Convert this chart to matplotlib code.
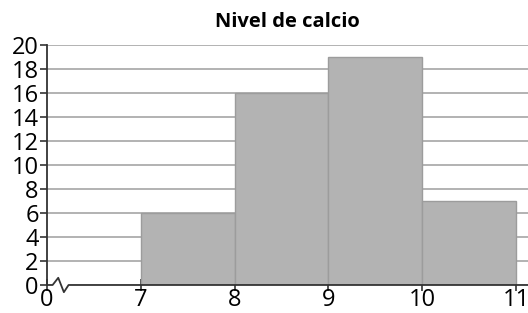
import matplotlib.pyplot as plt
import numpy as np

# datos del histograma
bordes = [7, 8, 9, 10, 11]
frecuencias = [6, 16, 19, 7]
etiquetas_x = ["0", "7", "8", "9", "10", "11"]
posiciones_x = [6, 7, 8, 9, 10, 11]
ticks_y = list(range(0, 21, 2))

plt.rcParams['font.family'] = ['Open Sans', 'DejaVu Sans']

fig = plt.figure(figsize=(5.28, 3.13), dpi=100)
ax = fig.add_axes([0.089, 0.0895, 0.911, 0.7665])

ax.set_xlim(6, 11.128)
ax.set_ylim(0, 20)

for y in ticks_y[1:]:
    ax.axhline(y, color='#a6a6a6', lw=1.2, zorder=1)

anchos = np.diff(bordes)
ax.bar(bordes[:-1], frecuencias, width=anchos, align='edge',
       color='#b3b3b3', edgecolor='#9c9c9c', lw=1, zorder=2)

# eje x con corte en zigzag
ax.spines['bottom'].set_visible(False)
ax.spines['top'].set_visible(False)
ax.spines['right'].set_visible(False)
ax.spines['left'].set_color('#333333')
ax.spines['left'].set_linewidth(1.3)
zx = [6, 6.06, 6.12, 6.18, 6.23, 6.3, 11.128]
zy = [0, 0, 0.6, -0.6, 0, 0, 0]
ax.plot(zx, zy, color='#333333', lw=1.3, clip_on=False, zorder=3)

ax.set_xticks(posiciones_x)
ax.set_xticklabels(etiquetas_x, fontsize=17)
ax.set_yticks(ticks_y)
ax.set_yticklabels([str(t) for t in ticks_y], fontsize=17)
ax.tick_params(axis='x', direction='inout', length=9, width=1.2, color='#333333', pad=-2)
ax.tick_params(axis='y', direction='out', length=5, width=1.2, color='#333333', pad=1)

ax.set_title("Nivel de calcio", fontsize=14.5, fontweight='bold', pad=13)

plt.savefig("out.png", dpi=100)
